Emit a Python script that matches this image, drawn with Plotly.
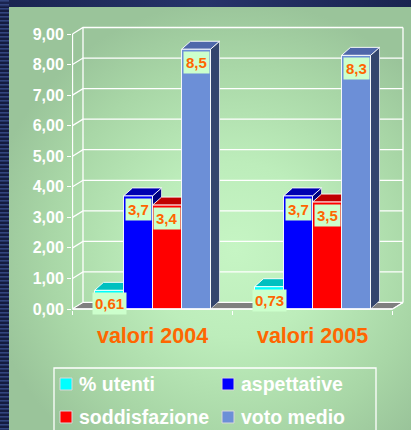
import base64
import plotly.graph_objects as go

# ---------------- data ----------------
categories = ["valori 2004", "valori 2005"]
series_names = ["% utenti", "aspettative", "soddisfazione", "voto medio"]
utenti = [0.61, 0.73]
aspettative = [3.7, 3.7]
soddisfazione = [3.4, 3.5]
voto_medio = [8.5, 8.3]
label_decimals = [2, 1, 1, 1]
y_ticks = [0, 1, 2, 3, 4, 5, 6, 7, 8, 9]
y_tick_labels = ["0,00", "1,00", "2,00", "3,00", "4,00", "5,00", "6,00", "7,00", "8,00", "9,00"]

# ---------------- styles ----------------
front_colors = ["#00FFFF", "#0000FF", "#FF0000", "#6C8FD7"]
top_colors = ["#00C0C0", "#0000B0", "#C00000", "#4F67AA"]
side_colors = ["#008080", "#000080", "#800000", "#34456E"]
ORANGE = "#FF6600"
FONT = "Liberation Sans"

FIG_W, FIG_H = 411, 430
M_L, M_R, M_T, M_B = 72, 6, 25, 120
PW = FIG_W - M_L - M_R
PH = FIG_H - M_T - M_B
X_PX = 160.0          # px per category
Y_PX = 275.0 / 9.0    # px per unit
xa = -0.5 / X_PX
xb = xa + PW / X_PX
ya = -1.0 / Y_PX
yb = ya + PH / Y_PX
DXu = 10.5 / X_PX     # wall depth
DYu = 6.5 / Y_PX
BDX = 9.0 / X_PX      # bar depth
BDY = 8.0 / Y_PX
BARGAP = 0.275


def fx(px):
    return (px - M_L) / PW


def fy(py):
    return (M_T + PH - py) / PH


series = [utenti, aspettative, soddisfazione, voto_medio]
positions = [i + 0.5 for i in range(len(categories))]
n_cat = len(categories)

fig = go.Figure()
for name, vals, col in zip(series_names, series, front_colors):
    fig.add_trace(go.Bar(
        x=positions, y=vals, name=name,
        marker=dict(color=col, line=dict(color="rgba(255,255,255,0.9)", width=1)),
        hoverinfo="skip", showlegend=False,
    ))

shapes = []
WL = dict(color="white", width=1.3)

# walls and gridlines
for v in y_ticks:
    shapes.append(dict(type="path", xref="x", yref="y", layer="below",
                       path=f"M 0,{v} L {DXu},{v + DYu} L {n_cat + DXu},{v + DYu}",
                       line=WL))
shapes.append(dict(type="line", xref="x", yref="y", layer="below",
                   x0=DXu, x1=DXu, y0=DYu, y1=y_ticks[-1] + DYu, line=WL))
shapes.append(dict(type="line", xref="x", yref="y", layer="below",
                   x0=n_cat + DXu, x1=n_cat + DXu, y0=DYu, y1=y_ticks[-1] + DYu, line=WL))
shapes.append(dict(type="line", xref="x", yref="y", layer="below",
                   x0=0, x1=0, y0=0, y1=y_ticks[-1], line=WL))
# floor
shapes.append(dict(type="path", xref="x", yref="y", layer="below",
                   path=f"M 0,0 L {n_cat},0 L {n_cat + DXu},{DYu} L {DXu},{DYu} Z",
                   fillcolor="#808080", line=dict(color="white", width=1)))

# 3D faces of bars
bw = (1 - BARGAP) / len(series)
annotations = []
for g in range(n_cat):
    for i, vals in enumerate(series):
        v = vals[g]
        xl = positions[g] - (1 - BARGAP) / 2 + i * bw
        xr = xl + bw
        shapes.append(dict(type="path", xref="x", yref="y", layer="below",
                           path=f"M {xr},0 L {xr + BDX},{BDY} L {xr + BDX},{v + BDY} L {xr},{v} Z",
                           fillcolor=side_colors[i], line=dict(color="rgba(255,255,255,0.8)", width=0.8)))
        shapes.append(dict(type="path", xref="x", yref="y", layer="below",
                           path=f"M {xl},{v} L {xr},{v} L {xr + BDX},{v + BDY} L {xl + BDX},{v + BDY} Z",
                           fillcolor=top_colors[i], line=dict(color="rgba(255,255,255,0.9)", width=1)))
        txt = f"{v:.{label_decimals[i]}f}".replace(".", ",")
        annotations.append(dict(x=(xl + xr) / 2, y=v, xref="x", yref="y",
                                text=txt, showarrow=False, yanchor="top", xanchor="center",
                                yshift=-2, bgcolor="#CCFFCC", borderpad=2,
                                font=dict(family=FONT, size=15, color=ORANGE, weight="bold")))

# front floor edge
shapes.append(dict(type="line", xref="x", yref="y", layer="above",
                   x0=0, x1=n_cat, y0=0, y1=0, line=WL))
shapes.append(dict(type="line", xref="x", yref="y", layer="above",
                   x0=n_cat, x1=n_cat + DXu, y0=0, y1=DYu, line=WL))

# legend (manual)
shapes.append(dict(type="rect", xref="paper", yref="paper", layer="above",
                   x0=fx(54), x1=fx(376), y0=fy(368), y1=fy(440),
                   line=dict(color="white", width=1.3), fillcolor="rgba(0,0,0,0)"))
leg_pos = [(60, 378), (222, 378), (60, 411), (222, 411)]
for (lx, ly), col, name in zip(leg_pos, front_colors, series_names):
    shapes.append(dict(type="rect", xref="paper", yref="paper", layer="above",
                       x0=fx(lx), x1=fx(lx + 12), y0=fy(ly), y1=fy(ly + 12),
                       fillcolor=col, line=dict(color="#D8D8D8", width=1)))
    annotations.append(dict(x=fx(lx + 17), y=fy(ly + 6), xref="paper", yref="paper",
                            text=name, showarrow=False, xanchor="left", yanchor="middle",
                            font=dict(family=FONT, size=19.5, color="white", weight="bold")))

# background image (navy frame + green radial panel)
stripes = "".join(
    f"<rect x='0' y='{y}' width='9' height='1.6' fill='#33457e'/>" for y in range(0, 430, 4)
)
svg = f"""<svg xmlns='http://www.w3.org/2000/svg' width='411' height='430' viewBox='0 0 411 430' preserveAspectRatio='none'>
<defs>
<radialGradient id='g' gradientUnits='userSpaceOnUse' cx='235' cy='250' r='250'>
<stop offset='0' stop-color='#C6F5C4'/>
<stop offset='0.35' stop-color='#BDEDBB'/>
<stop offset='0.75' stop-color='#A8D6A6'/>
<stop offset='1' stop-color='#9AC49A'/>
</radialGradient>
<linearGradient id='t' x1='0' y1='0' x2='1' y2='0'>
<stop offset='0' stop-color='#1a2450'/>
<stop offset='0.5' stop-color='#26346a'/>
<stop offset='1' stop-color='#1a2450'/>
</linearGradient>
</defs>
<rect width='411' height='430' fill='#141c40'/>
<rect width='411' height='7' fill='url(#t)'/>
{stripes}
<rect x='9' y='7' width='402' height='423' fill='url(#g)'/>
</svg>"""
uri = "data:image/svg+xml;base64," + base64.b64encode(svg.encode()).decode()

fig.update_layout(
    width=FIG_W, height=FIG_H,
    margin=dict(l=M_L, r=M_R, t=M_T, b=M_B, pad=0),
    paper_bgcolor="#141c40", plot_bgcolor="rgba(0,0,0,0)",
    barmode="group", bargap=BARGAP, bargroupgap=0,
    showlegend=False,
    shapes=shapes, annotations=annotations,
    images=[dict(source=uri, xref="paper", yref="paper",
                 x=fx(0), y=fy(0), sizex=fx(FIG_W) - fx(0), sizey=fy(0) - fy(FIG_H),
                 xanchor="left", yanchor="top", sizing="stretch", layer="below")],
    xaxis=dict(range=[xa, xb], tickmode="array", tickvals=positions, ticktext=categories,
               showgrid=False, zeroline=False, showline=False, ticks="",
               ticklabelstandoff=10,
               tickfont=dict(family=FONT, size=21.5, color=ORANGE, weight="bold"),
               minor=dict(tickmode="array", tickvals=list(range(n_cat + 1)), ticks="outside",
                          ticklen=4, tickcolor="white", tickwidth=1.3, showgrid=False)),
    yaxis=dict(range=[ya, yb], tickmode="array", tickvals=y_ticks, ticktext=y_tick_labels,
               showgrid=False, zeroline=False, showline=False, ticks="outside",
               ticklen=4, tickcolor="white", tickwidth=1.3,
               tickfont=dict(family=FONT, size=16, color="white", weight="bold")),
)

fig.write_html(
    "out.html",
    config={"displayModeBar": False},
    post_script="document.body.style.margin='0';document.body.style.padding='0';"
                "document.body.style.overflow='hidden';",
)
